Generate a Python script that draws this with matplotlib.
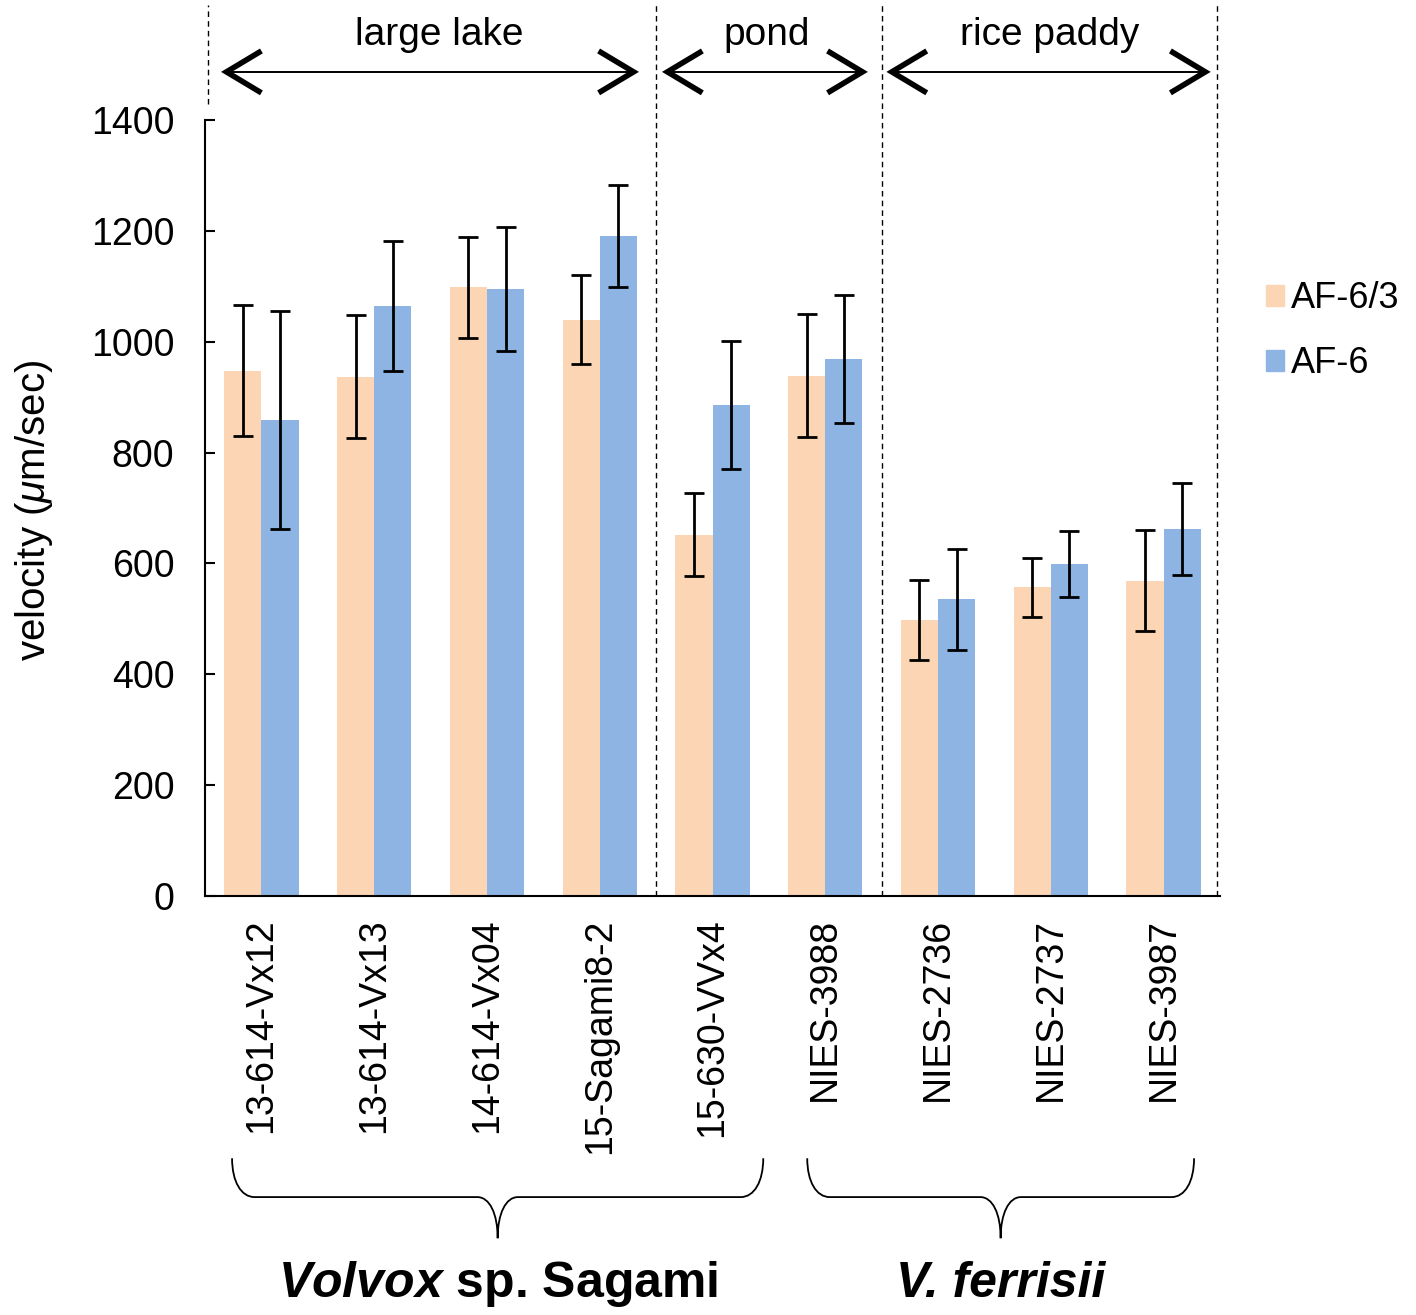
#!/usr/bin/env python3

import matplotlib
matplotlib.use('agg')
import matplotlib.pyplot as plt
from matplotlib.patches import Patch, PathPatch
from matplotlib.path import Path
from matplotlib.transforms import blended_transform_factory
import numpy as np

plt.rcParams['font.family'] = 'Liberation Sans'
plt.rcParams['mathtext.fontset'] = 'custom'
plt.rcParams['mathtext.rm'] = 'Liberation Sans'
plt.rcParams['mathtext.it'] = 'Liberation Sans:italic'
plt.rcParams['mathtext.bf'] = 'Liberation Sans:bold'
plt.rcParams['mathtext.bfit'] = 'Liberation Sans:italic:bold'

strains = ["13-614-Vx12", "13-614-Vx13", "14-614-Vx04", "15-Sagami8-2",
           "15-630-VVx4", "NIES-3988", "NIES-2736", "NIES-2737", "NIES-3987"]
af63_mean = [948, 937, 1098, 1040, 652, 939, 498, 557, 569]
af63_err = [118, 111, 91, 81, 75, 111, 72, 53, 91]
af6_mean = [859, 1065, 1095, 1191, 886, 969, 535, 599, 662]
af6_err = [196, 117, 112, 92, 116, 115, 91, 60, 83]

# habitats and the x range their arrows cover
habitats = ["large lake", "pond", "rice paddy"]
habitat_span = [(-0.31, 3.30), (3.60, 5.33), (5.59, 8.37)]
habitat_label_x = [1.58, 4.48, 6.99]
# species braces
species = [r"$\mathbfit{Volvox}$ sp. Sagami", "V. ferrisii"]
species_span = [(-0.26, 4.45), (4.84, 8.27)]
species_italic = [False, True]

ORANGE = "#FCD5B4"
BLUE = "#8DB4E2"

fig = plt.figure(figsize=(14.16, 13.15), dpi=100)
ax = fig.add_axes([205/1416, 1 - 896/1315, 1015/1416, 776/1315])

x = np.arange(len(strains))
w = 0.33
ekw = dict(ecolor='black', elinewidth=2.0, capsize=7, capthick=2.0)
ax.bar(x - w/2, af63_mean, w, yerr=af63_err, color=ORANGE, error_kw=ekw, label="AF-6/3")
ax.bar(x + w/2, af6_mean, w, yerr=af6_err, color=BLUE, error_kw=ekw, label="AF-6")

ax.set_xlim(-0.5, 8.5)
ax.set_ylim(0, 1400)
ax.set_yticks(range(0, 1401, 200))
ax.set_xticks(x)
ax.set_xticklabels(strains, rotation=90, fontsize=27)
ax.tick_params(axis='y', direction='in', length=7, width=1.5, labelsize=27, pad=22)
ax.tick_params(axis='x', length=0, pad=16)
for s in ['top', 'right']:
    ax.spines[s].set_visible(False)
for s in ['left', 'bottom']:
    ax.spines[s].set_linewidth(1.5)

ax.set_ylabel(r"velocity ($\mu$m/sec)", fontsize=29)
ax.yaxis.set_label_coords(-0.148, 0.497)

trans = blended_transform_factory(ax.transData, ax.transAxes)

# dashed separators
for xs, y0 in [(-0.47, 1.02), (3.5, 0.0), (5.5, 0.0), (8.47, 0.0)]:
    ax.plot([xs, xs], [y0, 1.148], transform=trans, color='black', lw=1.0,
            linestyle=(0, (4, 3)), clip_on=False)

# habitat arrows
ya = 1.062
hx, hy = 0.31, 0.027
for name, (a0, a1), lx in zip(habitats, habitat_span, habitat_label_x):
    ax.plot([a0, a1], [ya, ya], transform=trans, color='black', lw=1.4, clip_on=False)
    ax.plot([a0 + hx, a0, a0 + hx], [ya + hy, ya, ya - hy], transform=trans,
            color='black', lw=4, solid_joinstyle='miter', solid_capstyle='butt', clip_on=False)
    ax.plot([a1 - hx, a1, a1 - hx], [ya + hy, ya, ya - hy], transform=trans,
            color='black', lw=4, solid_joinstyle='miter', solid_capstyle='butt', clip_on=False)
    ax.text(lx, 1.11, name, transform=trans, ha='center', va='center', fontsize=28)

# species braces
ytop, ymid, ybot = -0.338, -0.388, -0.441
r, r2 = 0.2, 0.18
for label, (x0, x1), it in zip(species, species_span, species_italic):
    xc = (x0 + x1) / 2
    verts = [
        (x0, ytop),
        (x0, ytop + 0.6 * (ymid - ytop)), (x0 + 0.4 * r, ymid), (x0 + r, ymid),
        (xc - r2, ymid),
        (xc - 0.4 * r2, ymid), (xc, ymid + 0.4 * (ybot - ymid)), (xc, ybot),
        (xc, ymid + 0.4 * (ybot - ymid)), (xc + 0.4 * r2, ymid), (xc + r2, ymid),
        (x1 - r, ymid),
        (x1 - 0.4 * r, ymid), (x1, ytop + 0.6 * (ymid - ytop)), (x1, ytop),
    ]
    codes = [Path.MOVETO] + [Path.CURVE4] * 3 + [Path.LINETO] + [Path.CURVE4] * 6 \
        + [Path.LINETO] + [Path.CURVE4] * 3
    ax.add_patch(PathPatch(Path(verts, codes), transform=trans, fill=False,
                           lw=1.3, color='black', clip_on=False))
    ax.text(xc, -0.5, label, transform=trans, ha='center', va='center', fontsize=36,
            fontweight='bold', style='italic' if it else 'normal')

handles = [Patch(color=ORANGE), Patch(color=BLUE)]
ax.legend(handles, ["AF-6/3", "AF-6"], loc='center left', bbox_to_anchor=(1.045, 0.728),
          frameon=False, fontsize=26, handlelength=0.5, handleheight=0.5,
          handletextpad=0.2, labelspacing=0.83, borderpad=0, borderaxespad=0)

fig.savefig("out.png", dpi=100)
